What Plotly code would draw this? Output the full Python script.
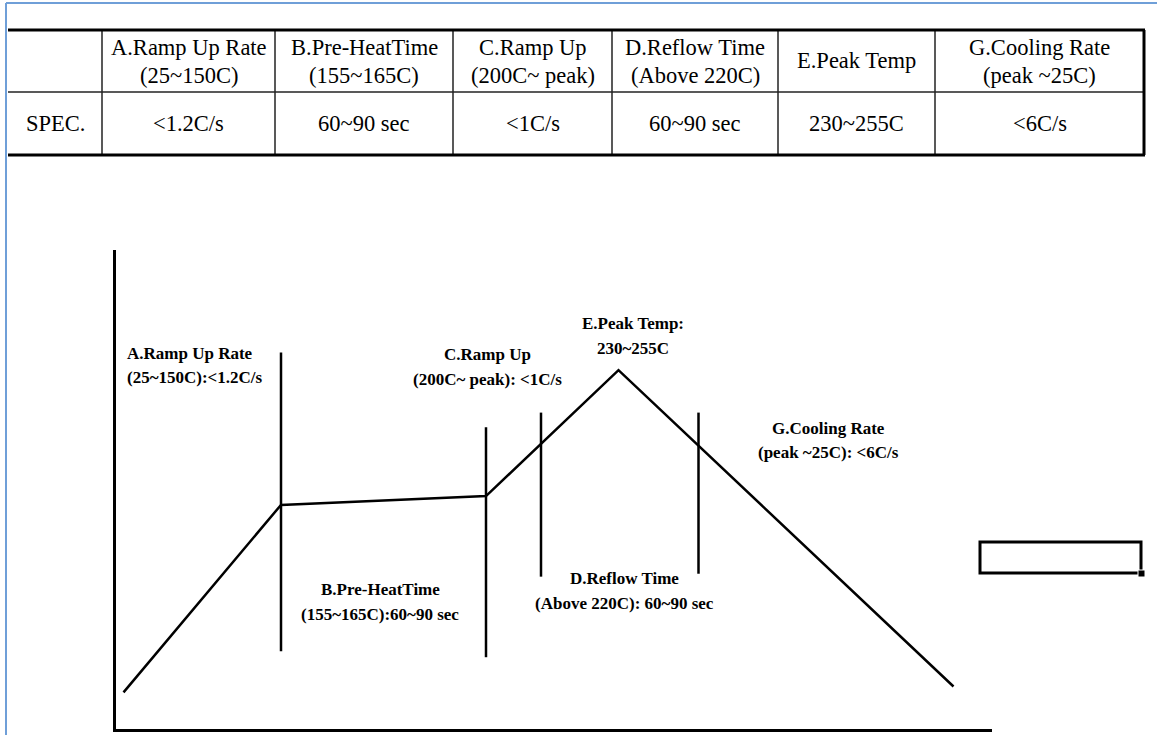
import plotly.graph_objects as go

# spec table
row_label = "SPEC."
header_top = ["A.Ramp Up Rate", "B.Pre-HeatTime", "C.Ramp Up", "D.Reflow Time", "E.Peak Temp", "G.Cooling Rate"]
header_bottom = ["(25~150C)", "(155~165C)", "(200C~ peak)", "(Above 220C)", "", "(peak ~25C)"]
spec_values = ["<1.2C/s", "60~90 sec", "<1C/s", "60~90 sec", "230~255C", "<6C/s"]

# reflow profile (time s, temp C)
profile_time = [3, 66, 148, 201, 335]
profile_temp = [25, 153, 159, 245, 29]

# zone boundary markers
boundary_time = [66, 148, 170, 233]
boundary_low = [53, 49, 104, 106]
boundary_high = [257, 206, 216, 216]

# zone labels (two lines each)
zone_line1 = ["A.Ramp Up Rate", "B.Pre-HeatTime", "C.Ramp Up", "E.Peak Temp:", "D.Reflow Time", "G.Cooling Rate"]
zone_line2 = ["(25~150C):<1.2C/s", "(155~165C):60~90 sec", "(200C~ peak): <1C/s", "230~255C",
              "(Above 220C): 60~90 sec", "(peak ~25C): <6C/s"]

W, H = 1157, 735


def px(x):
    return x / W


def py(y):
    return 1 - y / H


SERIF = "Times New Roman, Liberation Serif, DejaVu Serif, serif"

fig = go.Figure()
fig.add_trace(go.Scatter(x=profile_time, y=profile_temp, mode="lines",
                         line=dict(color="black", width=2.5), hoverinfo="skip"))
for t, lo, hi in zip(boundary_time, boundary_low, boundary_high):
    fig.add_trace(go.Scatter(x=[t, t], y=[lo, hi], mode="lines",
                             line=dict(color="black", width=2.5), hoverinfo="skip"))

shapes = []
annotations = []

# outer blue frame (spreadsheet window edge)
shapes.append(dict(type="line", xref="paper", yref="paper", x0=px(6), x1=1, y0=py(3), y1=py(3),
                   line=dict(color="#6f9fd8", width=2)))
shapes.append(dict(type="line", xref="paper", yref="paper", x0=px(6), x1=px(6), y0=py(3), y1=0,
                   line=dict(color="#6f9fd8", width=2)))

# table grid
col_edges = [8, 102, 275, 453, 612, 778, 935, 1144]
row_top, row_mid, row_bot = 30, 92, 155
for xe in col_edges[1:-1]:
    shapes.append(dict(type="line", xref="paper", yref="paper", x0=px(xe), x1=px(xe),
                       y0=py(row_top), y1=py(row_bot), line=dict(color="#222", width=1.5)))
shapes.append(dict(type="line", xref="paper", yref="paper", x0=px(col_edges[0]), x1=px(col_edges[-1]),
                   y0=py(row_mid), y1=py(row_mid), line=dict(color="#222", width=1.5)))
for yy in (row_top, row_bot):
    shapes.append(dict(type="line", xref="paper", yref="paper", x0=px(col_edges[0]), x1=px(col_edges[-1] + 1),
                       y0=py(yy), y1=py(yy), line=dict(color="black", width=3)))
shapes.append(dict(type="line", xref="paper", yref="paper", x0=px(col_edges[-1]), x1=px(col_edges[-1]),
                   y0=py(row_top), y1=py(row_bot), line=dict(color="black", width=3)))

tfont = dict(family=SERIF, size=22.5, color="black")
annotations.append(dict(x=px((col_edges[0] + col_edges[1]) / 2), y=py((row_mid + row_bot) / 2),
                        text=row_label, font=tfont))
for i in range(len(header_top)):
    cx = px((col_edges[i + 1] + col_edges[i + 2]) / 2)
    if header_bottom[i]:
        annotations.append(dict(x=cx, y=py(47), text=header_top[i], font=tfont))
        annotations.append(dict(x=cx, y=py(75), text=header_bottom[i], font=tfont))
    else:
        annotations.append(dict(x=cx, y=py(61), text=header_top[i], font=tfont))
    annotations.append(dict(x=cx, y=py((row_mid + row_bot) / 2), text=spec_values[i], font=tfont))

# zone labels on the profile
dfont = dict(family=SERIF, size=17, color="black", weight="bold")
label_pos = [(125, 353, "left"), (380, 589, "center"), (487, 354, "center"),
             (633, 323, "center"), (624, 578, "center"), (829, 428, "center")]
for (lx, ly, anc), l1, l2 in zip(label_pos, zone_line1, zone_line2):
    annotations.append(dict(x=px(lx), y=py(ly), text=l1, font=dfont, xanchor=anc))
    annotations.append(dict(x=px(lx), y=py(ly + 25), text=l2, font=dfont, xanchor=anc))

for a in annotations:
    a.setdefault("xref", "paper")
    a.setdefault("yref", "paper")
    a.setdefault("xanchor", "center")
    a["yanchor"] = "middle"
    a["showarrow"] = False

# selected cell box
shapes.append(dict(type="rect", xref="paper", yref="paper", x0=px(980), x1=px(1141),
                   y0=py(542), y1=py(573), line=dict(color="black", width=3)))
shapes.append(dict(type="rect", xref="paper", yref="paper", x0=px(1138), x1=px(1145),
                   y0=py(570), y1=py(577), fillcolor="black", line=dict(color="white", width=1)))

fig.update_layout(
    width=W, height=H,
    margin=dict(l=0, r=0, t=0, b=0),
    paper_bgcolor="white", plot_bgcolor="white",
    showlegend=False,
    shapes=shapes, annotations=annotations,
    xaxis=dict(domain=[px(116), px(992)], range=[0, 350.4], showline=True, linecolor="black",
               linewidth=3, showgrid=False, zeroline=False, showticklabels=False, ticks=""),
    yaxis=dict(domain=[py(729), py(250)], range=[0, 327], showline=True, linecolor="black",
               linewidth=3, showgrid=False, zeroline=False, showticklabels=False, ticks=""),
)

# drop the default body margin so the figure sits flush with the window
fig.write_html("out.html", config={"displayModeBar": False},
               post_script="document.body.style.margin='0';")
